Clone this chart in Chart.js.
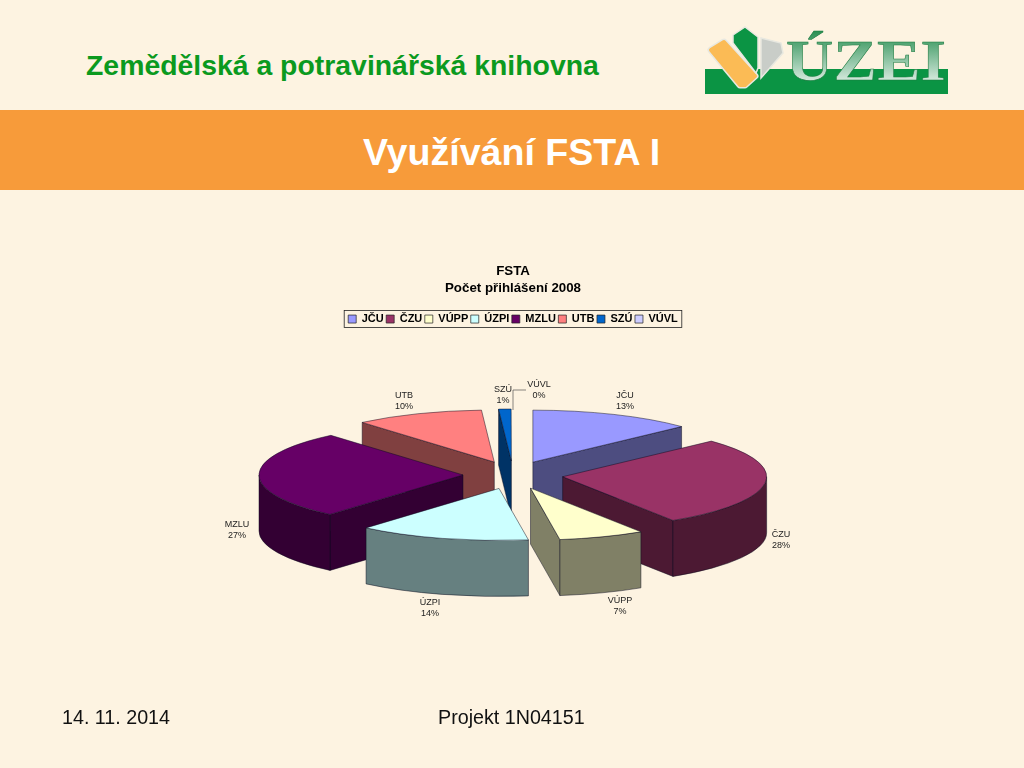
<!DOCTYPE html>
<html lang="cs">
<head>
<meta charset="utf-8">
<title>Využívání FSTA I</title>
<script src="https://cdn.jsdelivr.net/npm/chart.js@4/dist/chart.umd.js"></script>
<style>
  html, body { margin: 0; padding: 0; width: 1024px; height: 768px; overflow: hidden; background: #fdf3e1; }
  body { position: relative; font-family: "Liberation Sans", Arial, sans-serif; }
  #fsta { position: absolute; left: 0; top: 0; }
  .band { position: absolute; left: 0; top: 110px; width: 1024px; height: 80px; background: #f79b3a; }
  .txt { position: absolute; white-space: nowrap; }
  #lib { left: 86px; top: 49px; font-size: 28.4px; line-height: 32px; font-weight: bold; color: #0b9a1e; }
  #head { left: 0; width: 1023px; top: 130px; text-align: center; font-size: 37.6px; line-height: 44px; font-weight: bold; color: #fff; }
  #date { left: 62px; top: 706px; font-size: 19.7px; line-height: 22px; color: #111; }
  #proj { left: 438px; top: 706px; font-size: 19.7px; line-height: 22px; color: #111; }
  #logo { position: absolute; left: 700px; top: 20px; }
</style>
</head>
<body>
<div class="band"></div>
<div class="txt" id="lib">Zemědělská a potravinářská knihovna</div>
<div class="txt" id="head">Využívání FSTA I</div>
<canvas id="fsta" width="1024" height="768"></canvas>
<div class="txt" id="date">14. 11. 2014</div>
<div class="txt" id="proj">Projekt 1N04151</div>

<svg id="logo" width="256" height="80" viewBox="700 20 256 80">
  <defs>
    <linearGradient id="kov" x1="0" y1="0" x2="0" y2="1">
      <stop offset="0" stop-color="#1f8a4a"/>
      <stop offset="1" stop-color="#ffffff"/>
    </linearGradient>
  </defs>
  <rect x="705" y="69" width="243" height="25" fill="#0b9444"/>
  <polygon points="711,50 724,42 755,76 745,85 740,85" fill="#fbbb55" stroke="#e8e8e0" stroke-width="7" stroke-linejoin="round"/>
  <polygon points="711,50 724,42 755,76 745,85 740,85" fill="#fbbb55" stroke="#fbbb55" stroke-width="4" stroke-linejoin="round"/>
  <polygon points="733,35 745,27 758,37 758,68 756,73 733,43" fill="#0b9444" stroke="#e8e8e0" stroke-width="1.5"/>
  <polygon points="761,38 781,43 783,53 761,78" fill="#c9cdc8" stroke="#e8e8e0" stroke-width="1.5"/>
  <text x="786" y="80" font-family="Liberation Serif" font-weight="bold" font-size="58" textLength="160" lengthAdjust="spacingAndGlyphs" fill="url(#kov)" stroke="#1c7a3f" stroke-width="0.5">ÚZEI</text>
</svg>

<script>
// hodnoty z grafu (procenta), popisky se zaokrouhluji
var categories = ['JČU', 'ČZU', 'VÚPP', 'ÚZPI', 'MZLU', 'UTB', 'SZÚ', 'VÚVL'];
var values = [13, 27.9, 6.8, 13.6, 27.49, 10.21, 0.98, 0.02];
var topColors = ['#9999ff', '#993366', '#ffffcc', '#ccffff', '#660066', '#ff8080', '#0066cc', '#ccccff'];
var sideColors = ['#4d4d80', '#4c1933', '#808066', '#668080', '#330033', '#804040', '#003366', '#666680'];
var titleLines = ['FSTA', 'Počet přihlášení 2008'];

// vzhled kolace
var RX = 204, RY = 52, DEPTH = 56, EXPLODE_X = 50, EXPLODE_Y = 14, RISE = 267;
var labelSpots = [[625, 395.5], [781, 535], [620, 601], [430, 603], [237, 525], [404, 395.5], [503, 390], [539, 385]];

// vytazena vysec pres vlastni kresleni 3D, uhly a polomer bere z ArcElementu
var pie3d = {
  id: 'pie3d',
  beforeDraw: function (chart) {
    var boxes = chart.legend.legendHitBoxes;
    var left = boxes[0].left - 4;
    var last = boxes[boxes.length - 1];
    var right = last.left + last.width + 4;
    var ctx = chart.ctx;
    ctx.save();
    ctx.strokeStyle = '#222';
    ctx.lineWidth = 0.8;
    ctx.strokeRect(left, boxes[0].top - 3, right - left, boxes[0].height + 6);
    ctx.restore();
  },
  beforeDatasetDraw: function (chart) {
    var ctx = chart.ctx;
    var arcs = chart.getDatasetMeta(0).data;
    var cy = chart.chartArea.bottom - RISE;

    var slices = arcs.map(function (arc, i) {
      var mid = (arc.startAngle + arc.endAngle) / 2;
      return {
        arc: arc, i: i, mid: mid,
        ax: arc.x + Math.cos(mid) * EXPLODE_X,
        ay: cy + Math.sin(mid) * EXPLODE_Y
      };
    }).filter(function (s) { return values[s.i] >= 0.5; }); // 0% vysec neni videt

    function rim(s, a) {
      return [s.ax + Math.cos(a) * RX, s.ay + Math.sin(a) * RY];
    }
    function finish(color) {
      ctx.fillStyle = color;
      ctx.fill();
      ctx.strokeStyle = 'rgba(10,10,30,0.8)';
      ctx.lineWidth = 0.6;
      ctx.stroke();
    }
    function cutFace(s, a, color) {
      var p = rim(s, a);
      ctx.beginPath();
      ctx.moveTo(s.ax, s.ay);
      ctx.lineTo(p[0], p[1]);
      ctx.lineTo(p[0], p[1] + DEPTH);
      ctx.lineTo(s.ax, s.ay + DEPTH);
      ctx.closePath();
      finish(color);
    }

    // steny od zadnich vysecí k prednim
    slices.slice().sort(function (p, q) { return p.ay - q.ay; }).forEach(function (s) {
      var color = sideColors[s.i];
      var a = s.arc.startAngle, b = s.arc.endAngle;
      if (-Math.cos(a) > 1e-6) cutFace(s, a, color);
      if (Math.cos(b) > 1e-6) cutFace(s, b, color);
      var from = Math.max(a, 0), to = Math.min(b, Math.PI);
      if (to > from) {
        ctx.beginPath();
        ctx.ellipse(s.ax, s.ay, RX, RY, 0, from, to);
        ctx.ellipse(s.ax, s.ay + DEPTH, RX, RY, 0, to, from, true);
        ctx.closePath();
        finish(color);
      }
    });

    // horni plochy kresli samotny ArcElement, jen sploštěny
    slices.forEach(function (s) {
      var arc = s.arc;
      var sx = RX / arc.outerRadius, sy = RY / arc.outerRadius;
      ctx.save();
      ctx.translate(s.ax, s.ay);
      ctx.scale(sx, sy);
      ctx.translate(-arc.x, -arc.y);
      arc.draw(ctx);
      ctx.restore();
      ctx.beginPath();
      ctx.moveTo(s.ax, s.ay);
      ctx.ellipse(s.ax, s.ay, RX, RY, 0, arc.startAngle, arc.endAngle);
      ctx.closePath();
      ctx.strokeStyle = 'rgba(10,10,30,0.8)';
      ctx.lineWidth = 0.6;
      ctx.stroke();
    });

    // popisky
    ctx.save();
    ctx.font = '9px "Liberation Sans"';
    ctx.fillStyle = '#222';
    ctx.textAlign = 'center';
    ctx.textBaseline = 'middle';
    categories.forEach(function (name, i) {
      ctx.fillText(name, labelSpots[i][0], labelSpots[i][1]);
      ctx.fillText(Math.round(values[i]) + '%', labelSpots[i][0], labelSpots[i][1] + 11);
    });
    // odkazova cara k VUVL
    ctx.strokeStyle = '#555';
    ctx.lineWidth = 0.7;
    ctx.beginPath();
    ctx.moveTo(526, 390);
    ctx.lineTo(513, 390);
    ctx.lineTo(513, 410);
    ctx.stroke();
    ctx.restore();
    return false;
  }
};

var ctx = document.getElementById('fsta').getContext('2d');
var chart = new Chart(ctx, {
  type: 'pie',
  data: {
    labels: categories,
    datasets: [{
      data: values,
      backgroundColor: topColors,
      borderWidth: 0
    }]
  },
  plugins: [pie3d],
  options: {
    responsive: false,
    animation: false,
    layout: { padding: { top: 263, left: 2, bottom: 26 } },
    plugins: {
      tooltip: { enabled: false },
      title: {
        display: true,
        text: titleLines,
        color: '#000',
        font: { family: 'Liberation Sans', size: 13.3, weight: 'bold', lineHeight: 1.28 },
        padding: { top: 0, bottom: 14 }
      },
      legend: {
        position: 'top',
        labels: {
          color: '#000',
          font: { family: 'Liberation Sans', size: 11, weight: 'bold' },
          boxWidth: 8,
          boxHeight: 8,
          padding: 2.5,
          generateLabels: function (c) {
            return Chart.PieController.overrides.plugins.legend.labels.generateLabels(c).map(function (l) {
              l.lineWidth = 0.7;
              l.strokeStyle = '#222';
              l.hidden = false;
              return l;
            });
          }
        }
      }
    }
  }
});
</script>
</body>
</html>
